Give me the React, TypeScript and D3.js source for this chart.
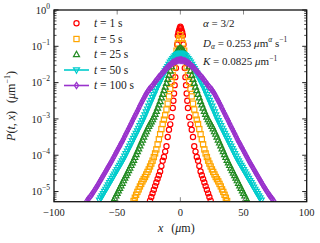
import React from "react";
import * as d3 from "d3";

const W = 320;
const H = 243;

const xTicks = [-100, -50, 0, 50, 100];
const yExps = [0, -1, -2, -3, -4, -5];
const times = [1, 5, 25, 50, 100];
const colors = ["#ff0000", "#ffa500", "#228b22", "#00cccc", "#9932cc"];
const shapes = ["circle", "square", "triangle", "tridown", "diamond"];
const withLine = [false, false, false, true, true];

// right half (x >= 0) readings, mirrored for the symmetric left half; values are log10 P
const x1 = [0, 0.5, 1, 1.5, 2, 2.5, 3, 3.5, 4, 4.5, 5, 5.5, 6, 7, 8, 9, 10, 11, 12, 13, 14, 15, 16, 17, 18, 19, 20, 21, 22, 23, 24];
const lp1 = [-0.46, -0.5, -0.56, -0.62, -0.7, -0.95, -1.3, -1.6, -1.85, -2.07, -2.3, -2.5, -2.7, -2.95, -3.15, -3.3, -3.5, -3.75, -3.9, -4.05, -4.15, -4.3, -4.45, -4.55, -4.65, -4.75, -4.85, -4.95, -5.05, -5.15, -5.25];

const x5 = [0, 1, 2, 3, 4, 5, 6, 7, 8, 9, 10, 11, 12, 13, 14, 15, 16, 17, 18, 19, 20, 21, 22, 23, 24, 25, 26, 27, 28, 29, 30, 31, 32, 33, 34, 35, 36, 37];
const lp5 = [-0.69, -0.78, -0.92, -1.12, -1.35, -1.58, -1.8, -1.98, -2.17, -2.38, -2.58, -2.74, -2.9, -3.02, -3.14, -3.28, -3.42, -3.56, -3.7, -3.84, -3.95, -4.05, -4.15, -4.23, -4.31, -4.39, -4.46, -4.53, -4.6, -4.66, -4.72, -4.79, -4.86, -4.94, -5.01, -5.09, -5.17, -5.26];

const x25 = [0, 1, 2, 3, 4, 5, 6, 7, 8, 9, 10, 11, 12, 13, 14, 15, 16, 17, 18, 19, 20, 21, 22, 23, 24, 25, 26, 27, 28, 29, 30, 31, 32, 33, 34, 35, 36, 37, 38, 39, 40, 41, 42, 43, 44, 45, 46, 47, 48, 49, 50, 51, 52, 53];
const lp25 = [-1.05, -1.07, -1.1, -1.16, -1.24, -1.33, -1.44, -1.56, -1.68, -1.8, -1.91, -2.02, -2.12, -2.22, -2.32, -2.42, -2.52, -2.61, -2.7, -2.79, -2.87, -2.95, -3.02, -3.08, -3.14, -3.2, -3.27, -3.35, -3.42, -3.5, -3.58, -3.66, -3.74, -3.82, -3.9, -3.98, -4.06, -4.14, -4.21, -4.28, -4.35, -4.42, -4.49, -4.56, -4.63, -4.7, -4.77, -4.84, -4.91, -4.98, -5.05, -5.12, -5.19, -5.26];

const x50 = [0, 1, 2, 3, 4, 5, 6, 7, 8, 9, 10, 11, 12, 13, 14, 15, 16, 17, 18, 19, 20, 21, 22, 23, 24, 25, 26, 27, 28, 29, 30, 31, 32, 33, 34, 35, 36, 37, 38, 39, 40, 41, 42, 43, 44, 45, 46, 47, 48, 49, 50, 51, 52, 53, 54, 55, 56, 57, 58, 59, 60, 61, 62, 63, 64];
const lp50 = [-1.19, -1.2, -1.21, -1.23, -1.26, -1.3, -1.34, -1.39, -1.44, -1.5, -1.56, -1.62, -1.68, -1.75, -1.82, -1.89, -1.96, -2.03, -2.1, -2.17, -2.25, -2.33, -2.41, -2.49, -2.57, -2.65, -2.73, -2.81, -2.89, -2.97, -3.05, -3.12, -3.19, -3.26, -3.33, -3.4, -3.47, -3.54, -3.61, -3.68, -3.75, -3.82, -3.89, -3.96, -4.03, -4.1, -4.16, -4.22, -4.28, -4.34, -4.4, -4.46, -4.52, -4.58, -4.64, -4.7, -4.76, -4.82, -4.88, -4.94, -5.0, -5.06, -5.12, -5.18, -5.24];

const x100 = [0, 1, 2, 3, 4, 5, 6, 7, 8, 9, 10, 11, 12, 13, 14, 15, 16, 17, 18, 19, 20, 21, 22, 23, 24, 25, 26, 27, 28, 29, 30, 31, 32, 33, 34, 35, 36, 37, 38, 39, 40, 41, 42, 43, 44, 45, 46, 47, 48, 49, 50, 51, 52, 53, 54, 55, 56, 57, 58, 59, 60, 61, 62, 63, 64, 65, 66, 67, 68, 69, 70, 71, 72, 73, 74];
const lp100 = [-1.38, -1.38, -1.39, -1.4, -1.41, -1.43, -1.45, -1.48, -1.51, -1.54, -1.57, -1.61, -1.65, -1.69, -1.73, -1.77, -1.81, -1.85, -1.89, -1.94, -1.98, -2.03, -2.08, -2.12, -2.16, -2.2, -2.25, -2.31, -2.37, -2.44, -2.5, -2.57, -2.64, -2.71, -2.78, -2.85, -2.92, -2.99, -3.06, -3.13, -3.2, -3.27, -3.34, -3.41, -3.48, -3.55, -3.62, -3.68, -3.75, -3.81, -3.88, -3.94, -4.01, -4.07, -4.14, -4.2, -4.26, -4.32, -4.38, -4.44, -4.5, -4.56, -4.62, -4.68, -4.74, -4.8, -4.86, -4.91, -4.97, -5.02, -5.08, -5.12, -5.17, -5.21, -5.26];

const seriesX = [x1, x5, x25, x50, x100];
const seriesLP = [lp1, lp5, lp25, lp50, lp100];

const L = 54, R = 306.7, T = 10, B = 201.7;
const xScale = d3.scaleLinear().domain([-100, 100]).range([L, R]);
const yScale = d3.scaleLog().domain([Math.pow(10, -5.28), 1]).range([B, T]);

const FONT = "'Liberation Serif', 'DejaVu Serif', serif";

function Marker({ shape, cx, cy, color }: { shape: string; cx: number; cy: number; color: string }) {
  const sw = 1.2;
  if (shape === "circle") return <circle cx={cx} cy={cy} r={2.6} fill="none" stroke={color} strokeWidth={sw} />;
  if (shape === "square") return <rect x={cx - 2.6} y={cy - 2.6} width={5.2} height={5.2} fill="none" stroke={color} strokeWidth={sw} />;
  if (shape === "triangle")
    return <path d={`M${cx},${cy - 3.2} L${cx + 3},${cy + 2.1} L${cx - 3},${cy + 2.1} Z`} fill="none" stroke={color} strokeWidth={sw} />;
  if (shape === "tridown")
    return <path d={`M${cx},${cy + 3.2} L${cx + 3},${cy - 2.1} L${cx - 3},${cy - 2.1} Z`} fill="none" stroke={color} strokeWidth={sw} />;
  return <path d={`M${cx},${cy - 3.2} L${cx + 2.1},${cy} L${cx},${cy + 3.2} L${cx - 2.1},${cy} Z`} fill="none" stroke={color} strokeWidth={sw} />;
}

function Pow10({ x, y, e, anchor }: { x: number; y: number; e: number; anchor: string }) {
  return (
    <text x={x} y={y} textAnchor={anchor} fontFamily={FONT} fontSize={10.5} fill="#222">
      10
      <tspan dy={-5} fontSize={7.5}>{e === 0 ? "0" : "\u2212" + Math.abs(e)}</tspan>
    </text>
  );
}

export default function App() {
  const data = seriesX.map((xs, si) => {
    const pts: [number, number][] = [];
    xs.forEach((x, i) => {
      const p = Math.pow(10, seriesLP[si][i]);
      pts.push([x, p]);
      if (x > 0) pts.push([-x, p]);
    });
    pts.sort((a, b) => a[0] - b[0]);
    return pts;
  });

  const line = d3
    .line<[number, number]>()
    .x((d) => xScale(d[0]))
    .y((d) => yScale(d[1]))
    .curve(d3.curveMonotoneX);

  const minor: number[] = [];
  for (let e = -6; e < 0; e++) {
    for (let k = 2; k <= 9; k++) {
      const v = k * Math.pow(10, e);
      if (v >= Math.pow(10, -5.28) && v < 1) minor.push(v);
    }
  }

  const legendY = [23.3, 39, 54.5, 70, 85.5];

  return (
    <svg width={W} height={H} style={{ position: "absolute", left: 0, top: 0, background: "#fff" }}>
      <rect x={0} y={0} width={W} height={H} fill="#fff" />
      <defs>
        <clipPath id="plot">
          <rect x={L} y={T} width={R - L} height={B - T} />
        </clipPath>
      </defs>

      {/* data */}
      <g clipPath="url(#plot)">
        {data.map((pts, si) => (
          <g key={si}>
            {pts.map((d, i) => (
              <Marker key={i} shape={shapes[si]} cx={xScale(d[0])} cy={yScale(d[1])} color={colors[si]} />
            ))}
            {withLine[si] && <path d={line(pts) || ""} fill="none" stroke={colors[si]} strokeWidth={1.5} />}
          </g>
        ))}
      </g>

      {/* ticks */}
      {xTicks.map((t) => (
        <g key={t}>
          <line x1={xScale(t)} x2={xScale(t)} y1={B} y2={B - 4.5} stroke="#888" strokeWidth={1} />
          <line x1={xScale(t)} x2={xScale(t)} y1={T} y2={T + 4.5} stroke="#888" strokeWidth={1} />
          <text x={xScale(t)} y={215.5} textAnchor="middle" fontFamily={FONT} fontSize={10.5} fill="#222">
            {t < 0 ? "\u2212" + Math.abs(t) : String(t)}
          </text>
        </g>
      ))}
      {yExps.map((e) => {
        const y = yScale(Math.pow(10, e));
        return (
          <g key={e}>
            <line x1={L} x2={L + 4.5} y1={y} y2={y} stroke="#222" strokeWidth={1} />
            <line x1={R} x2={R - 4.5} y1={y} y2={y} stroke="#222" strokeWidth={1} />
            <Pow10 x={50} y={y + 3.8} e={e} anchor="end" />
          </g>
        );
      })}
      {minor.map((v, i) => {
        const y = yScale(v);
        return (
          <g key={i}>
            <line x1={L} x2={L + 2.5} y1={y} y2={y} stroke="#222" strokeWidth={0.8} />
            <line x1={R} x2={R - 2.5} y1={y} y2={y} stroke="#222" strokeWidth={0.8} />
          </g>
        );
      })}

      {/* frame */}
      <rect x={L} y={T} width={R - L} height={B - T} fill="none" stroke="#111" strokeWidth={1.3} />

      {/* legend */}
      {times.map((t, i) => (
        <g key={t}>
          {withLine[i] && <line x1={64} x2={89} y1={legendY[i]} y2={legendY[i]} stroke={colors[i]} strokeWidth={1.6} />}
          <Marker shape={shapes[i]} cx={76.5} cy={legendY[i]} color={colors[i]} />
          <text x={94} y={legendY[i] + 3.8} fontFamily={FONT} fontSize={11.5} fill="#222">
            <tspan fontStyle="italic">t</tspan>
            {" = " + t + " s"}
          </text>
        </g>
      ))}

      {/* annotations */}
      <text x={203} y={27} fontFamily={FONT} fontSize={11} fill="#222">
        <tspan fontStyle="italic">α</tspan> = 3/2
      </text>
      <text x={203} y={46.5} fontFamily={FONT} fontSize={11} fill="#222">
        <tspan fontStyle="italic">D</tspan>
        <tspan fontStyle="italic" fontSize={7.5} dy={2.5}>α</tspan>
        <tspan dy={-2.5}> = 0.253 </tspan>
        <tspan fontStyle="italic">μ</tspan>m
        <tspan fontStyle="italic" fontSize={7.5} dy={-4.5}>α</tspan>
        <tspan dy={4.5}> s</tspan>
        <tspan fontSize={7.5} dy={-4.5}>−1</tspan>
      </text>
      <text x={203} y={65} fontFamily={FONT} fontSize={11} fill="#222">
        <tspan fontStyle="italic">K</tspan> = 0.0825 <tspan fontStyle="italic">μ</tspan>m
        <tspan fontSize={7.5} dy={-4.5}>−1</tspan>
      </text>

      {/* axis titles */}
      <text x={158} y={232} fontFamily={FONT} fontSize={12} fill="#222">
        <tspan fontStyle="italic">x</tspan>
        <tspan dx={8}>(</tspan>
        <tspan fontStyle="italic">μ</tspan>m)
      </text>
      <text transform="translate(15,106) rotate(-90)" textAnchor="middle" fontFamily={FONT} fontSize={12} fill="#222">
        <tspan fontStyle="italic">P</tspan>(<tspan fontStyle="italic">t</tspan>, <tspan fontStyle="italic">x</tspan>)
        <tspan dx={8}>(</tspan>
        <tspan fontStyle="italic">μ</tspan>m
        <tspan fontSize={8} dy={-5}>−1</tspan>
        <tspan dy={5}>)</tspan>
      </text>
    </svg>
  );
}
